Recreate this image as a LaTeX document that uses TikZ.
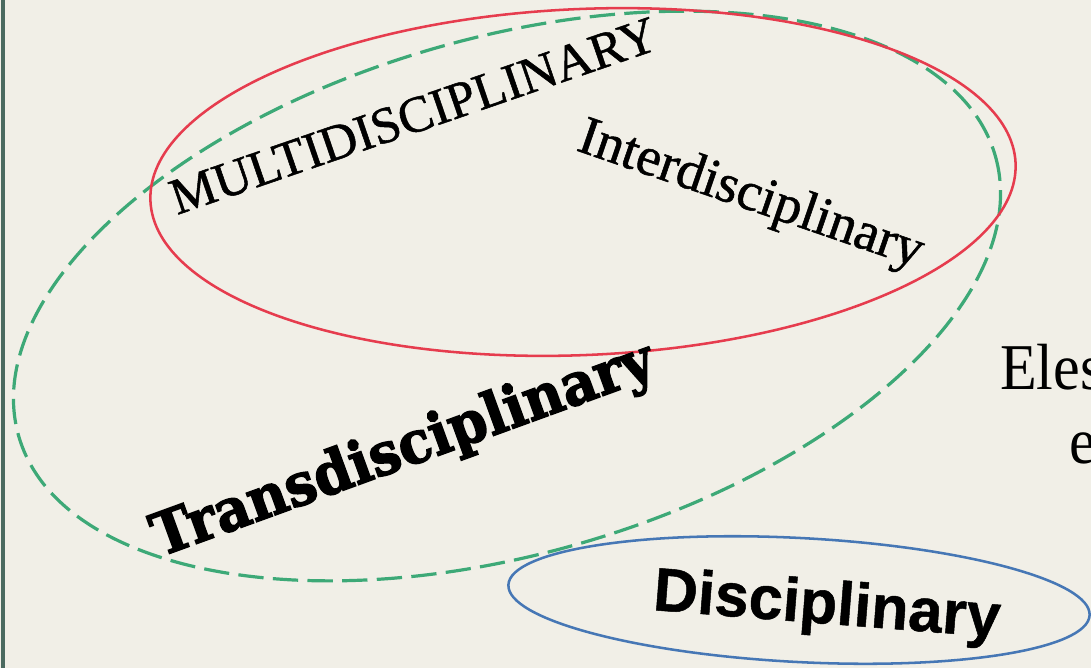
\documentclass[tikz,border=0pt]{standalone}
\usepackage{fontspec}
\setmainfont{Liberation Serif}
\newfontfamily\labelfont{Liberation Serif}[FakeBold=1]
\newfontfamily\sansfont{Liberation Sans}[BoldFeatures={FakeBold=0.8}]
\newfontfamily\heavyfont{DejaVu Serif}[BoldFeatures={FakeBold=2.5}]
\definecolor{paper}{HTML}{F1EFE7}
\definecolor{framecol}{HTML}{4B6A60}
\definecolor{multired}{HTML}{E63C4E}
\definecolor{transgreen}{HTML}{3DA977}
\definecolor{discblue}{HTML}{4677B5}
\tikzset{
  wordtext/.style={inner sep=0pt, anchor=base west},
  redring/.style={draw=multired, line width=1.9pt},
  greenring/.style={draw=transgreen, line width=2.4pt, dash pattern=on 19pt off 7pt},
  bluering/.style={draw=discblue, line width=1.9pt}
}

\begin{document}
\begin{tikzpicture}[x=0.75pt,y=-0.75pt] % one unit = one pixel of the reference
            % Paper and frame
            \useasboundingbox (0,0) rectangle (1091,668);
            \fill[paper] (0,0) rectangle (1091,668);
            \clip (0,0) rectangle (1091,668);
            \draw[framecol, line width=2.5pt] (3,0) -- (3,668);

            % The three rings
            \draw[greenring, rotate around={16:(507,296)}] (507,296) ellipse [x radius=508, y radius=258];
            \draw[redring, rotate around={2.5:(583,182)}] (583,182) ellipse [x radius=433, y radius=173];
            \draw[bluering, rotate around={-3:(799,600)}] (799,600) ellipse [x radius=291, y radius=62];

            % Words along the rings
            \node[wordtext, rotate=19, font=\labelfont\fontsize{38.5}{38}\selectfont] (multi) at (177,215) {MULTIDISCIPLINARY};
            \node[wordtext, rotate=-19, font=\labelfont\fontsize{41}{41}\selectfont] (inter) at (575,150) {Interdisciplinary};
            \node[wordtext, rotate=20, xscale=0.93, font=\heavyfont\bfseries\fontsize{44}{44}\selectfont] (trans) at (160,557) {Transdisciplinary};
            \node[wordtext, rotate=-4.5, font=\sansfont\bfseries\fontsize{46}{46}\selectfont] (disc) at (652,610) {Disciplinary};

            % Text cut off at the right edge
            \node[wordtext, xscale=0.92, font=\fontsize{49}{49}\selectfont] (eles) at (1000,389) {Eles};
            \node[wordtext, xscale=0.92, font=\fontsize{49}{49}\selectfont] (econt) at (1069,463) {e};
        \end{tikzpicture}
\end{document}
